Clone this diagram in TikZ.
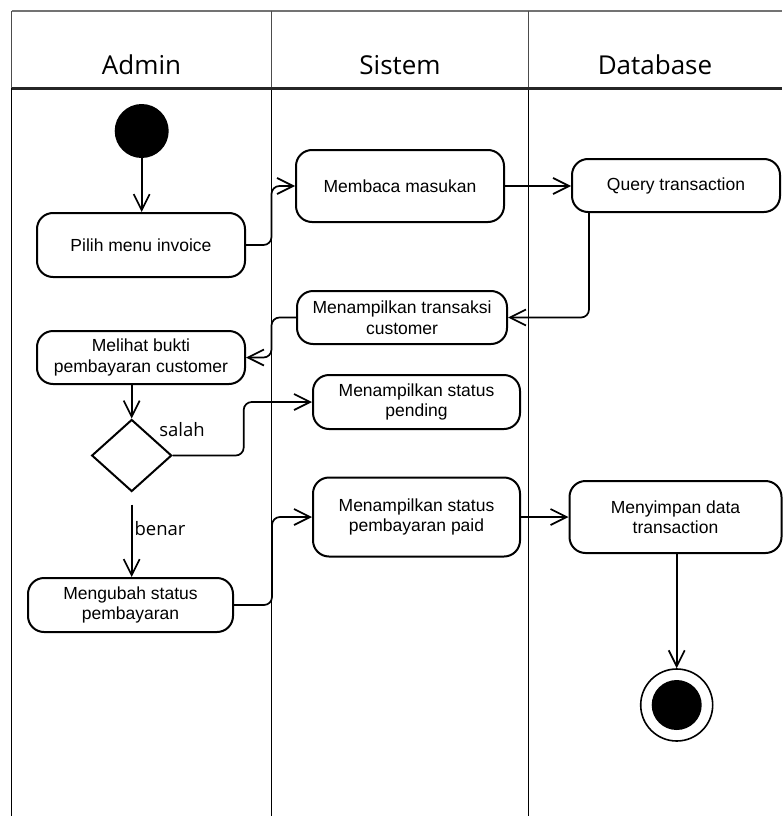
\documentclass[tikz,border=0pt]{standalone}
\usepackage{fontspec}
\setmainfont{Liberation Sans}
\newfontfamily\lanefont{Open Sans}
\usetikzlibrary{arrows.meta,shapes.geometric}
\begin{document}
\begin{tikzpicture}[x=1pt,y=-1pt,
  act/.style={draw=black, line width=2pt, rounded corners=16pt, fill=white,
    align=center, inner sep=2pt, font=\fontsize{17.5}{20.5}\selectfont},
  decision/.style={draw=black, line width=2pt, diamond, inner sep=0pt,
    minimum width=80pt, minimum height=72pt},
  flow/.style={draw=black, line width=1.7pt, rounded corners=8pt,
    -{Straight Barb[length=16pt,width=16pt,line width=1.7pt]}},
  lane/.style={line width=1.6pt},
  lanetitle/.style={font=\lanefont\fontsize{26}{30}\selectfont},
  guard/.style={font=\lanefont\fontsize{18.5}{22}\selectfont}]

\useasboundingbox (0,0) rectangle (782,816);

% swimlane frame
\draw[lane, draw=black!55, line width=2pt] (11.5,11) -- (782,11);
\draw[lane, draw=black!70] (11.5,11) -- (11.5,88);
\draw[lane, draw=black!70] (271.5,11) -- (271.5,88);
\draw[lane, draw=black!70] (528.5,11) -- (528.5,88);
\draw[lane] (11.5,88) -- (11.5,816);
\draw[lane] (271.5,88) -- (271.5,816);
\draw[lane] (528.5,88) -- (528.5,816);
\draw[draw=black!85, line width=3pt] (11.5,88.5) -- (782,88.5);

\node[lanetitle] (tAdmin) at (141.5,65) {Admin};
\node[lanetitle] (tSistem) at (400,65) {Sistem};
\node[lanetitle] (tDb) at (655,65) {Database};

% activities
\node[circle, fill=black, minimum size=54pt, inner sep=0pt] (start) at (141.7,131) {};
\node[act, minimum width=208pt, minimum height=64pt] (pilih) at (141,245) {Pilih menu invoice};
\node[act, minimum width=208pt, minimum height=72pt] (membaca) at (400,186) {Membaca masukan};
\node[act, minimum width=208pt, minimum height=53pt] (query) at (676,185.5) {Query transaction};
\node[act, minimum width=210pt, minimum height=53pt] (tampil) at (402,317.5) {Menampilkan transaksi\\customer};
\node[act, minimum width=208pt, minimum height=53pt] (melihat) at (141,357.5) {Melihat bukti\\pembayaran customer};
\node[decision] (cek) at (131.7,455.5) {};
\node[act, minimum width=207pt, minimum height=54pt] (pending) at (416.5,402) {Menampilkan status\\pending};
\node[act, minimum width=207pt, minimum height=79pt] (paid) at (416.5,517) {Menampilkan status\\pembayaran paid};
\node[act, minimum width=212pt, minimum height=72pt] (simpan) at (675.5,517) {Menyimpan data\\transaction};
\node[act, minimum width=205pt, minimum height=54pt] (ubah) at (130.5,605) {Mengubah status\\pembayaran};
\node[circle, draw=black, line width=1.6pt, minimum size=72pt, inner sep=0pt] (end) at (676.7,705) {};
\node[circle, fill=black, minimum size=50pt, inner sep=0pt] (endDot) at (end.center) {};

% guards
\node[guard] (gSalah) at (182,430) {salah};
\node[guard] (gBenar) at (160,529) {benar};

% control flow
\draw[flow] (start) -- (pilih.north -| start);
\draw[flow] (pilih.east) -- ++(25.5,0) |- (membaca.west);
\draw[flow] (membaca.east) -- (query.west |- membaca.east);
\draw[flow] ([xshift=18pt]query.south west) |- (tampil.east);
\draw[flow] (tampil.west) -- ++(-24.5,0) |- (melihat.east);
\draw[flow] (melihat.south -| cek.north) -- (cek.north);
\draw[flow] (cek.east) -- ++(71,0) |- (pending.west);
\draw[flow, shorten <=12pt] (cek.south) -- (ubah.north -| cek.south);
\draw[flow] (ubah.east) -- ++(38,0) |- (paid.west);
\draw[flow] (paid.east) -- (simpan.west |- paid.east);
\draw[flow] (simpan.south -| end) -- (end.north);
\end{tikzpicture}
\end{document}
